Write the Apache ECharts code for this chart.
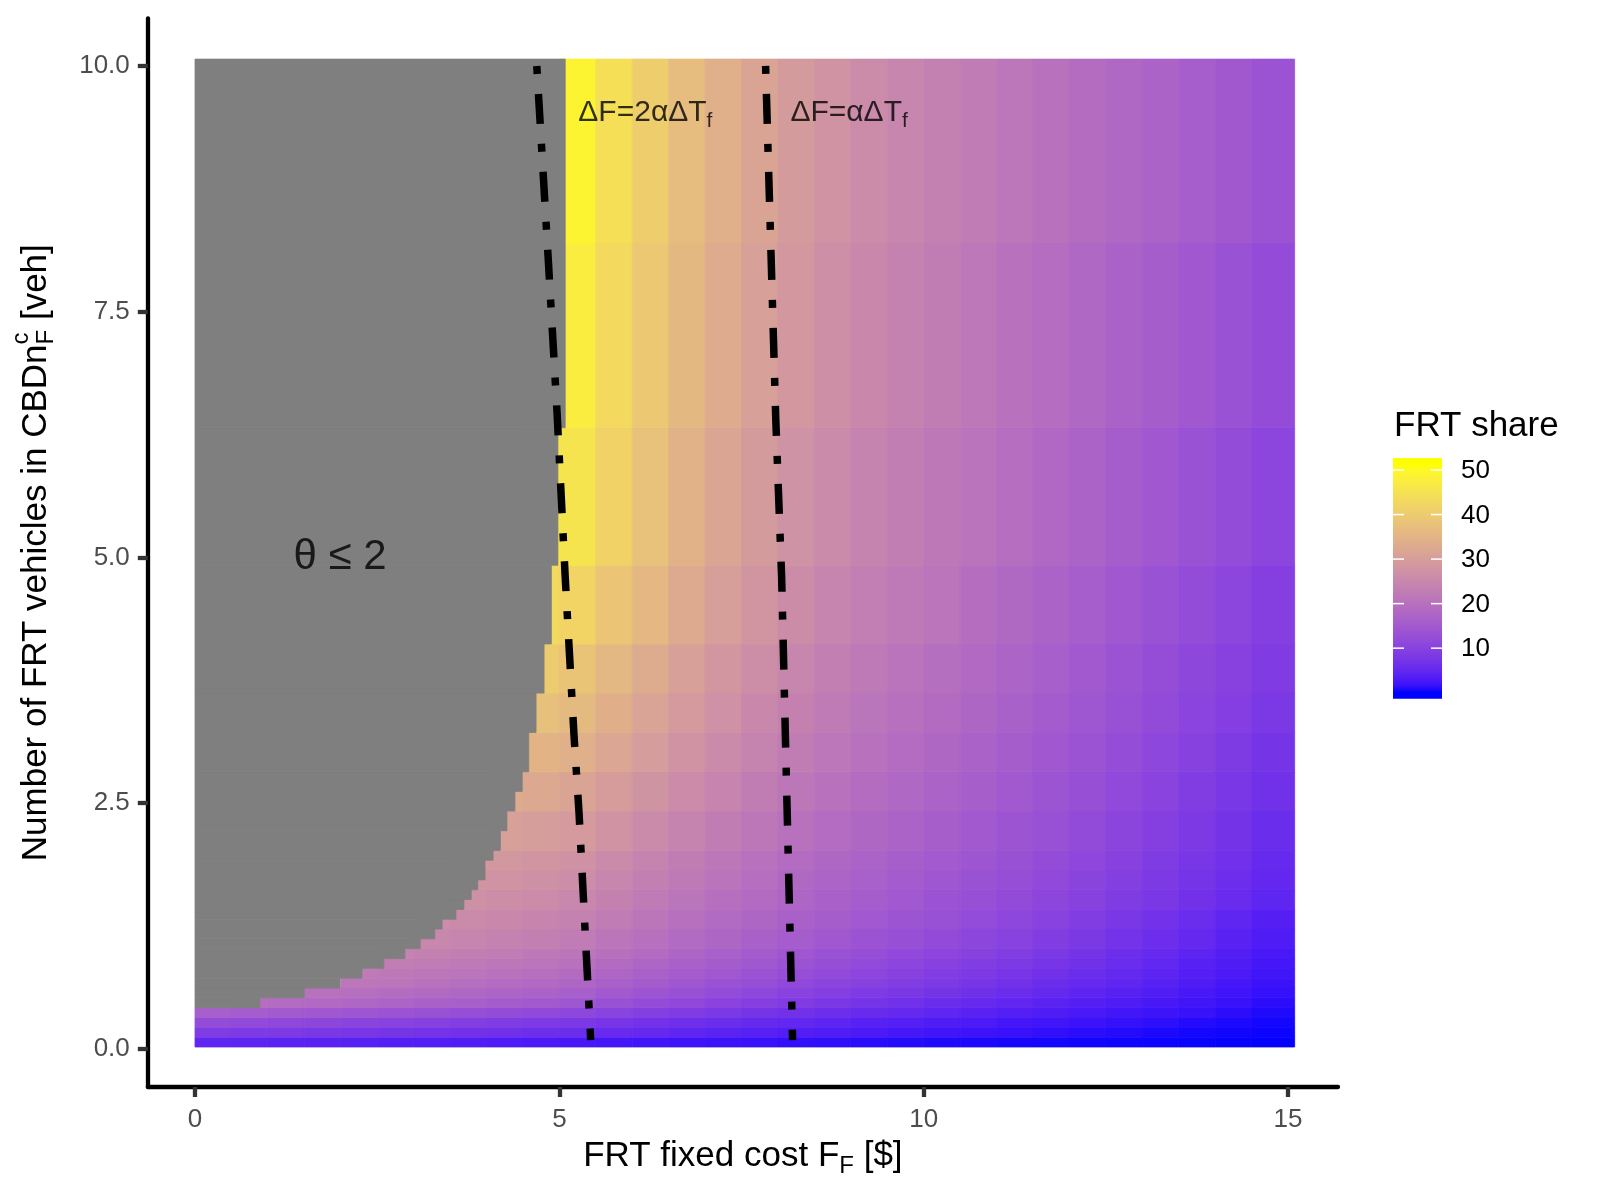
<!DOCTYPE html>
<html><head><meta charset="utf-8">
<script src="https://cdn.jsdelivr.net/npm/echarts@6/dist/echarts.min.js"></script>
<style>html,body{margin:0;padding:0;background:#fff}#c{width:1600px;height:1200px}</style>
</head><body><div id="c"></div>
<script>
// ---------- data ----------
const xEdges = [0,0.5,1,1.5,2,2.5,3,3.5,4,4.5,5,5.5,6,6.5,7,7.5,8,8.5,9,9.5,10,10.5,11,11.5,12,12.5,13,13.5,14,14.5,15.09];
const yEdges = [0.02,0.12,0.22,0.32,0.42,0.52,0.62,0.72,0.82,0.92,1.02,1.22,1.42,1.62,1.82,2.02,2.42,2.82,3.22,3.62,4.12,4.92,6.32,8.2,10.07];
const N = null;
// FRT share, one row per y band (bottom to top), one value per x band
const shareRows = [
 [4.6,4.4,4.2,4.0,3.8,3.6,3.4,3.2,3.0,2.8,2.6,2.4,2.2,2.0,1.8,1.6,1.45,1.3,1.15,1.0,0.9,0.8,0.7,0.6,0.5,0.42,0.35,0.28,0.2,0.12],
 [8.8,8.5,8.2,7.9,7.6,7.3,7.0,6.7,6.4,6.1,5.8,5.4,5.0,4.6,4.2,3.8,3.4,3.1,2.8,2.5,2.2,1.9,1.6,1.4,1.2,1.0,0.8,0.6,0.5,0.35],
 [12.0,11.6,11.2,10.8,10.4,10.0,9.6,9.2,8.8,8.4,8.0,7.4,6.8,6.3,5.8,5.3,4.8,4.3,3.9,3.5,3.1,2.8,2.4,2.1,1.8,1.5,1.3,1.0,0.8,0.6],
 [16.0,15.5,15.0,14.5,14.0,13.5,13.0,12.5,12.0,11.5,11.0,10.2,9.4,8.7,8.0,7.3,6.7,6.1,5.5,5.0,4.5,4.0,3.5,3.1,2.7,2.3,1.9,1.6,1.2,0.9],
 [N,19.4,19.0,18.4,17.8,17.2,16.6,16.0,15.4,14.8,14.1,13.1,12.1,11.2,10.3,9.5,8.7,7.9,7.2,6.5,5.9,5.3,4.7,4.1,3.6,3.1,2.6,2.1,1.6,1.2],
 [N,N,N,20.2,19.7,19.1,18.5,17.9,17.3,16.7,16.0,14.9,13.8,12.8,11.9,11.0,10.1,9.3,8.5,7.8,7.1,6.4,5.7,5.0,4.4,3.8,3.2,2.6,2.0,1.5],
 [N,N,N,N,21.3,20.8,20.2,19.6,19.0,18.4,17.7,16.5,15.4,14.3,13.3,12.4,11.5,10.6,9.8,9.0,8.2,7.4,6.7,5.9,5.2,4.5,3.8,3.1,2.4,1.8],
 [N,N,N,N,22.2,21.8,21.3,20.8,20.2,19.6,18.9,17.7,16.6,15.5,14.4,13.4,12.5,11.6,10.7,9.9,9.1,8.3,7.5,6.7,5.9,5.1,4.3,3.5,2.8,2.1],
 [N,N,N,N,N,23.0,22.5,22.0,21.4,20.8,20.1,18.8,17.6,16.5,15.4,14.4,13.4,12.5,11.6,10.7,9.9,9.0,8.2,7.4,6.6,5.7,4.8,3.9,3.1,2.4],
 [N,N,N,N,N,24.0,23.5,23.0,22.4,21.8,21.1,19.8,18.6,17.4,16.3,15.3,14.3,13.3,12.4,11.5,10.7,9.8,9.0,8.0,7.1,6.1,5.2,4.3,3.4,2.6],
 [N,N,N,N,N,N,25.0,24.5,23.9,23.3,22.5,21.2,19.9,18.7,17.6,16.5,15.5,14.5,13.6,12.7,11.8,10.9,10.0,9.0,8.0,7.0,6.0,5.0,4.0,3.1],
 [N,N,N,N,N,N,26.2,25.7,25.2,24.6,23.8,22.5,21.2,19.9,18.7,17.6,16.6,15.6,14.6,13.7,12.8,11.9,11.0,10.0,9.0,7.9,6.8,5.7,4.6,3.6],
 [N,N,N,N,N,N,N,27.0,26.5,25.9,25.1,23.7,22.3,21.0,19.7,18.6,17.5,16.5,15.5,14.6,13.6,12.7,11.7,10.8,9.8,8.8,7.8,6.7,5.6,4.5],
 [N,N,N,N,N,N,N,28.0,27.5,27.0,26.2,24.8,23.3,21.9,20.6,19.4,18.3,17.2,16.2,15.2,14.3,13.3,12.4,11.4,10.4,9.4,8.3,7.2,6.0,4.9],
 [N,N,N,N,N,N,N,29.0,28.6,28.0,27.3,25.8,24.2,22.8,21.4,20.2,19.0,17.9,16.9,15.9,15.0,14.0,13.0,12.0,11.0,9.9,8.8,7.7,6.5,5.3],
 [N,N,N,N,N,N,N,N,30.5,30.0,29.2,27.5,25.8,24.2,22.7,21.4,20.1,19.0,17.9,16.9,15.9,14.9,13.8,12.8,11.7,10.6,9.5,8.3,7.1,5.9],
 [N,N,N,N,N,N,N,N,33.0,32.5,31.5,29.6,27.7,25.9,24.3,22.8,21.4,20.2,19.1,18.0,17.0,15.9,14.8,13.7,12.6,11.5,10.3,9.1,7.9,6.6],
 [N,N,N,N,N,N,N,N,N,35.0,34.0,31.9,29.7,27.6,25.8,24.1,22.6,21.3,20.1,19.0,17.9,16.8,15.7,14.5,13.4,12.2,11.0,9.8,8.6,7.3],
 [N,N,N,N,N,N,N,N,N,37.5,36.3,33.9,31.4,29.1,27.1,25.3,23.7,22.3,21.0,19.9,18.8,17.6,16.4,15.3,14.1,12.9,11.7,10.5,9.3,8.0],
 [N,N,N,N,N,N,N,N,N,40.0,38.5,35.8,33.0,30.5,28.3,26.4,24.7,23.2,21.9,20.7,19.6,18.4,17.2,16.0,14.8,13.5,12.3,11.1,9.9,8.7],
 [N,N,N,N,N,N,N,N,N,43.0,42.0,38.8,35.6,32.7,30.2,28.0,26.1,24.5,23.1,21.9,20.8,19.5,18.3,17.0,15.8,14.5,13.2,12.0,10.7,9.5],
 [N,N,N,N,N,N,N,N,N,46.0,45.5,41.5,37.8,34.6,31.8,29.4,27.4,25.7,24.2,22.9,21.8,20.6,19.4,18.1,16.9,15.7,14.5,13.2,12.0,10.7],
 [N,N,N,N,N,N,N,N,N,N,47.5,43.2,39.4,36.0,33.1,30.6,28.5,26.7,25.2,23.9,22.7,21.5,20.3,19.2,18.0,16.8,15.6,14.4,13.3,12.1],
 [N,N,N,N,N,N,N,N,N,N,49.0,44.5,40.5,37.0,34.0,31.5,29.3,27.5,26.0,24.7,23.5,22.4,21.3,20.2,19.1,18.0,16.9,15.8,14.7,13.6]
];
// theta <= 2 region: [yLow, yHigh, x where the grey ends]
const grayRows = [
 [0.42,0.52,0.89],[0.52,0.62,1.50],[0.62,0.72,1.99],[0.72,0.82,2.29],[0.82,0.92,2.59],[0.92,1.02,2.88],
 [1.02,1.12,3.09],[1.12,1.22,3.29],[1.22,1.32,3.39],[1.32,1.42,3.58],[1.42,1.52,3.69],[1.52,1.62,3.79],
 [1.62,1.72,3.88],[1.72,1.82,3.98],[1.82,1.92,3.98],[1.92,2.02,4.09],[2.02,2.22,4.19],[2.22,2.42,4.28],
 [2.42,2.62,4.39],[2.62,2.82,4.49],[2.82,3.22,4.58],[3.22,3.62,4.68],[3.62,4.12,4.79],[4.12,4.92,4.89],
 [4.92,6.32,4.98],[6.32,10.07,5.08]
];
const line2a = [[4.69,10.0],[4.85,8.0],[4.97,6.45],[5.08,4.8],[5.2,3.2],[5.27,2.4],[5.43,0.09]]; // dF = 2 a dTf
const line1a = [[7.83,10.0],[7.97,6.4],[8.05,4.8],[8.2,0.09]];                               // dF = a dTf
const xTicks = [0,5,10,15];
const yTicks = [0,2.5,5,7.5,10];
const legendTicks = [10,20,30,40,50];
const shareMin = 0, shareMax = 51.35;

// ---------- colour scale: blue -> yellow interpolated in Lab ----------
function s2l(c){c/=255;return c<=0.04045?c/12.92:Math.pow((c+0.055)/1.055,2.4);}
function l2s(v){v=v<=0.0031308?12.92*v:1.055*Math.pow(v,1/2.4)-0.055;return Math.round(Math.max(0,Math.min(1,v))*255);}
const Xn=0.95047,Yn=1,Zn=1.08883,EPS=216/24389,KAP=24389/27;
function ff(t){return t>EPS?Math.cbrt(t):(KAP*t+16)/116;}
function fi(t){const t3=t*t*t;return t3>EPS?t3:(116*t-16)/KAP;}
function rgb2lab(c){const R=s2l(c[0]),G=s2l(c[1]),B=s2l(c[2]);
 const X=0.4124564*R+0.3575761*G+0.1804375*B,Y=0.2126729*R+0.7151522*G+0.0721750*B,Z=0.0193339*R+0.1191920*G+0.9503041*B;
 const fx=ff(X/Xn),fy=ff(Y/Yn),fz=ff(Z/Zn);return [116*fy-16,500*(fx-fy),200*(fy-fz)];}
function lab2rgb(l){const fy=(l[0]+16)/116,fx=fy+l[1]/500,fz=fy-l[2]/200;
 const X=Xn*fi(fx),Y=Yn*fi(fy),Z=Zn*fi(fz);
 const R=3.2404542*X-1.5371385*Y-0.4985314*Z,G=-0.9692660*X+1.8760108*Y+0.0415560*Z,B=0.0556434*X-0.2040259*Y+1.0572252*Z;
 return 'rgb('+l2s(R)+','+l2s(G)+','+l2s(B)+')';}
const labLo=rgb2lab([0,0,255]),labHi=rgb2lab([255,255,0]);
function colorAt(t){t=Math.max(0,Math.min(1,t));return lab2rgb([0,1,2].map(i=>labLo[i]+(labHi[i]-labLo[i])*t));}
const NSTOP=32;const stops=[];for(let i=0;i<=NSTOP;i++)stops.push(colorAt(i/NSTOP));

// ---------- build series data ----------
const cells=[];
for(let r=0;r<shareRows.length;r++)for(let c=0;c<shareRows[r].length;c++){
 const v=shareRows[r][c];if(v==null)continue;
 cells.push([xEdges[c],xEdges[c+1],yEdges[r],yEdges[r+1],v]);}
const grayCells=grayRows.map(g=>[0,g[2],g[0],g[1]]);

function rectItem(color){return function(params,api){
 const p0=api.coord([api.value(0),api.value(3)]),p1=api.coord([api.value(1),api.value(2)]);
 const col=color||api.visual('color');
 return {type:'rect',shape:{x:p0[0],y:p0[1],width:p1[0]-p0[0],height:p1[1]-p0[1]},
   style:{fill:col,stroke:col,lineWidth:0.8}};};}

const FONT='"Liberation Sans", Arial, Helvetica, sans-serif';
const chart=echarts.init(document.getElementById('c'),null,{renderer:'canvas'});

// layout
const GRID={left:147.8,right:262,top:18.4,bottom:113};
// legend geometry
const barX=1393,barW=49,barTop=458,barH=240.7,innerTop=464,innerBot=692.7;
function legY(v){return innerTop+(shareMax-v)/(shareMax-shareMin)*(innerBot-innerTop);}
const gradStops=[];
for(let i=0;i<=NSTOP;i++){const v=shareMin+(shareMax-shareMin)*i/NSTOP;
 const off=(legY(v)-barTop)/barH;gradStops.push({offset:Math.max(0,Math.min(1,off)),color:colorAt(i/NSTOP)});}
gradStops.push({offset:0,color:colorAt(1)});gradStops.push({offset:1,color:colorAt(0)});
gradStops.sort((a,b)=>a.offset-b.offset);

const graphics=[
 {type:'text',left:1394,top:426-17.5,style:{text:'FRT share',font:'35px '+FONT,fill:'#000',verticalAlign:'top'}},
 {type:'rect',shape:{x:barX,y:barTop,width:barW,height:barH},style:{fill:{type:'linear',x:0,y:0,x2:0,y2:1,colorStops:gradStops}}}
];
legendTicks.forEach(v=>{const y=legY(v);
 graphics.push({type:'line',shape:{x1:barX,y1:y,x2:barX+11,y2:y},style:{stroke:'#fff',lineWidth:1.5}});
 graphics.push({type:'line',shape:{x1:barX+barW-11,y1:y,x2:barX+barW,y2:y},style:{stroke:'#fff',lineWidth:1.5}});
 graphics.push({type:'text',x:1461,y:y+1,style:{text:String(v),font:'26px '+FONT,fill:'#000',verticalAlign:'middle',align:'left'}});
});

// y-axis title: "Number of FRT vehicles in CBDn" + F (subscript) + " [veh]"; superscript c stacked above the F
const yTitleA='Number of FRT vehicles in CBDn', yTitleSub='F', yTitleB=' [veh]', yTitleSup='c';
const mctx=document.createElement('canvas').getContext('2d');
function tw(t,size){mctx.font=size+'px '+FONT;return mctx.measureText(t).width;}
const wA=tw(yTitleA,35), wS=tw(yTitleSub,24), wB=tw(yTitleB,35);
const yMid=GRID.top+(1200-GRID.top-GRID.bottom)/2;
const supStart=yMid+(wA+wS+wB)/2-wA;
graphics.push({type:'text',x:21,y:supStart,rotation:Math.PI/2,style:{text:yTitleSup,font:'24px '+FONT,fill:'#000',align:'left',verticalAlign:'middle'}});

const dashLine={color:'#000',width:7.5,type:[8,20,30,20],cap:'butt',join:'miter'};

chart.setOption({
 animation:false,
 backgroundColor:'#fff',
 textStyle:{fontFamily:FONT},
 grid:{left:GRID.left,right:GRID.right,top:GRID.top,bottom:GRID.bottom,containLabel:false,outerBoundsMode:'none'},
 xAxis:{type:'value',min:-0.648,max:15.685,
  name:'{m|FRT fixed cost F}{s|F}{m| [$]}',nameLocation:'middle',nameGap:47,
  nameTextStyle:{rich:{m:{fontSize:35,lineHeight:44,color:'#000',fontFamily:FONT},s:{fontSize:24,lineHeight:24,verticalAlign:'bottom',color:'#000',fontFamily:FONT}}},
  axisLine:{show:true,onZero:false,lineStyle:{color:'#000',width:4.3}},
  axisTick:{show:true,length:10,customValues:xTicks,lineStyle:{color:'#333',width:4.3}},
  axisLabel:{customValues:xTicks,color:'#4d4d4d',fontSize:26,margin:20,fontFamily:FONT,formatter:v=>String(v)},
  splitLine:{show:false}},
 yAxis:{type:'value',min:-0.387,max:10.484,
  name:'{m|'+yTitleA+'}{s|'+yTitleSub+'}{m|'+yTitleB+'}',nameLocation:'middle',nameRotate:90,nameGap:89,
  nameTextStyle:{rich:{m:{fontSize:35,lineHeight:44,color:'#000',fontFamily:FONT},s:{fontSize:24,lineHeight:24,verticalAlign:'bottom',color:'#000',fontFamily:FONT}}},
  axisLine:{show:true,onZero:false,lineStyle:{color:'#000',width:4.3}},
  axisTick:{show:true,length:10,customValues:yTicks,lineStyle:{color:'#333',width:4.3}},
  axisLabel:{customValues:yTicks,color:'#4d4d4d',fontSize:26,margin:18,fontFamily:FONT,formatter:v=>v.toFixed(1)},
  splitLine:{show:false}},
 visualMap:{type:'continuous',show:false,min:shareMin,max:shareMax,dimension:4,seriesIndex:0,inRange:{color:stops}},
 series:[
  {type:'custom',name:'FRT share',data:cells,renderItem:rectItem(null),encode:{x:[0,1],y:[2,3]},z:1,silent:true},
  {type:'custom',name:'theta<=2',data:grayCells,renderItem:rectItem('#7f7f7f'),encode:{x:[0,1],y:[2,3]},z:2,silent:true},
  {type:'line',data:line2a,symbol:'none',lineStyle:dashLine,z:5,silent:true},
  {type:'line',data:line1a,symbol:'none',lineStyle:dashLine,z:5,silent:true},
  {type:'scatter',symbolSize:0,z:6,silent:true,data:[
    {value:[5.26,9.52],label:{show:true,position:[0,0],align:'left',verticalAlign:'middle',formatter:'{m|ΔF=2αΔT}{s|f}'}},
    {value:[8.17,9.52],label:{show:true,position:[0,0],align:'left',verticalAlign:'middle',formatter:'{m|ΔF=αΔT}{s|f}'}},
    {value:[1.99,5.0],label:{show:true,position:[0,0],align:'center',verticalAlign:'middle',formatter:'{t|θ ≤ 2}'}}],
   label:{rich:{m:{fontSize:30,lineHeight:38,color:'#000',fontFamily:FONT},s:{fontSize:21,lineHeight:21,verticalAlign:'bottom',color:'#000',fontFamily:FONT},t:{fontSize:42,lineHeight:48,color:'#000',fontFamily:FONT}}}}
 ],
 graphic:graphics
});
</script></body></html>
